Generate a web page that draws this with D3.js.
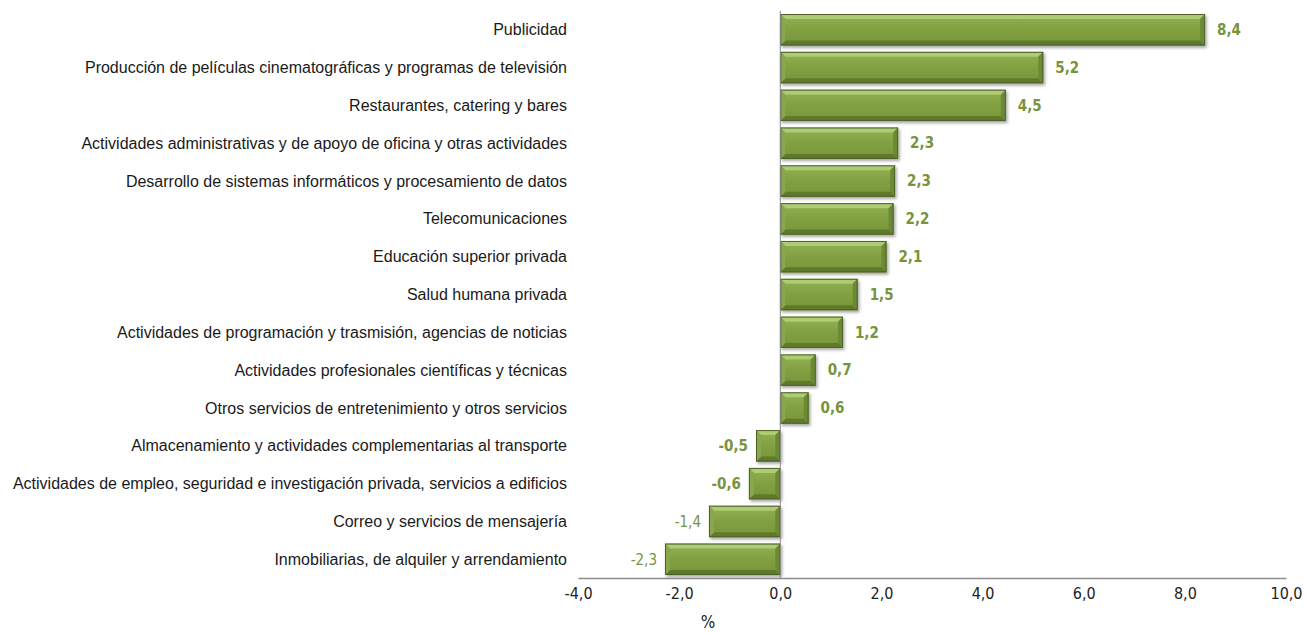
<!DOCTYPE html>
<html>
<head>
<meta charset="utf-8">
<script src="https://cdn.jsdelivr.net/npm/d3@7"></script>
<style>
  body { margin: 0; background: #fff; }
  .cat { font-family: "Liberation Sans", Arial, sans-serif; font-size: 16px; fill: #1a1a1a; }
  .tick-lbl { font-family: "Liberation Sans Narrow", "Arial Narrow", "DejaVu Sans Condensed", sans-serif; font-size: 16px; fill: #222; }
  .val { font-family: "Liberation Sans Narrow", "Arial Narrow", "DejaVu Sans Condensed", sans-serif; font-size: 15px; fill: #77933C; }
</style>
</head>
<body>
<script>
const categories = [
  "Publicidad",
  "Producción de películas cinematográficas y programas de televisión",
  "Restaurantes, catering y bares",
  "Actividades administrativas y de apoyo de oficina y otras actividades",
  "Desarrollo de sistemas informáticos y procesamiento de datos",
  "Telecomunicaciones",
  "Educación superior privada",
  "Salud humana privada",
  "Actividades de programación y trasmisión, agencias de noticias",
  "Actividades profesionales científicas y técnicas",
  "Otros servicios de entretenimiento y otros servicios",
  "Almacenamiento y actividades complementarias al transporte",
  "Actividades de empleo, seguridad e investigación privada, servicios a edificios",
  "Correo y servicios de mensajería",
  "Inmobiliarias, de alquiler y arrendamiento"
];
const values = [8.4, 5.2, 4.46, 2.33, 2.27, 2.24, 2.1, 1.53, 1.24, 0.7, 0.56, -0.48, -0.62, -1.41, -2.28];
const xTicks = [-4, -2, 0, 2, 4, 6, 8, 10];

const W = 1305, H = 633;
const svg = d3.select("body").append("svg").attr("width", W).attr("height", H);

const x = d3.scaleLinear().domain([-4, 10]).range([578, 1286]);
const y = d3.scaleBand().domain(categories).range([11, 578]).paddingInner(0.17).paddingOuter(0.08);

const data = categories.map((c, i) => ({ cat: c, value: values[i] }));
const fmt = v => v.toFixed(1).replace(".", ",");

// gradients
const defs = svg.append("defs");
const g1 = defs.append("linearGradient").attr("id", "barGrad").attr("x1", 0).attr("y1", 0).attr("x2", 0).attr("y2", 1);
g1.append("stop").attr("offset", "0%").attr("stop-color", "#93B253");
g1.append("stop").attr("offset", "50%").attr("stop-color", "#81A042");
g1.append("stop").attr("offset", "100%").attr("stop-color", "#789639");
const sh = defs.append("filter").attr("id", "shadow").attr("x", "-10%").attr("y", "-20%").attr("width", "130%").attr("height", "160%");
sh.append("feDropShadow").attr("dx", 1.5).attr("dy", 2).attr("stdDeviation", 1.5).attr("flood-color", "#000").attr("flood-opacity", 0.35);

// bars with bevel
const bars = svg.append("g").selectAll("g").data(data).join("g")
  .attr("filter", "url(#shadow)");

bars.each(function(d) {
  const g = d3.select(this);
  const x0 = Math.min(x(0), x(d.value)), x1 = Math.max(x(0), x(d.value));
  const y0 = y(d.cat), y1 = y0 + y.bandwidth();
  const b = 5;
  g.append("rect").attr("x", x0).attr("y", y0).attr("width", x1 - x0).attr("height", y1 - y0)
    .attr("fill", "url(#barGrad)");
  // top bevel
  g.append("polygon").attr("points", [[x0, y0], [x1, y0], [x1 - b, y0 + b], [x0 + b, y0 + b]].join(" "))
    .attr("fill", "#AECB74");
  // bottom bevel
  g.append("polygon").attr("points", [[x0, y1], [x1, y1], [x1 - b, y1 - b], [x0 + b, y1 - b]].join(" "))
    .attr("fill", "#5F7A2B");
  // left bevel
  g.append("polygon").attr("points", [[x0, y0], [x0 + b, y0 + b], [x0 + b, y1 - b], [x0, y1]].join(" "))
    .attr("fill", "#8AA64F");
  // right bevel
  g.append("polygon").attr("points", [[x1, y0], [x1 - b, y0 + b], [x1 - b, y1 - b], [x1, y1]].join(" "))
    .attr("fill", "#6C8A34");
  g.append("rect").attr("x", x0 + 0.5).attr("y", y0 + 0.5).attr("width", x1 - x0 - 1).attr("height", y1 - y0 - 1)
    .attr("fill", "none").attr("stroke", "#4F6228").attr("stroke-width", 1);
});

// zero line
svg.append("line")
  .attr("x1", x(0)).attr("x2", x(0))
  .attr("y1", 11).attr("y2", 578)
  .attr("stroke", "#8c8c8c").attr("stroke-width", 1);

// bottom axis
const xAxis = svg.append("g")
  .attr("transform", "translate(0,578)")
  .call(d3.axisBottom(x).tickValues(xTicks).tickSize(0).tickPadding(10).tickFormat(fmt));
xAxis.select(".domain").attr("stroke", "#8c8c8c").attr("stroke-width", 1.3);
xAxis.selectAll("text").attr("class", "tick-lbl").attr("font-family", null).attr("font-size", null).attr("fill", null);

svg.append("text")
  .attr("x", x(-1.43)).attr("y", 628)
  .attr("text-anchor", "middle")
  .attr("class", "tick-lbl")
  .style("font-size", "17px")
  .text("%");

// category labels
svg.append("g").selectAll("text").data(data).join("text")
  .attr("class", "cat")
  .attr("x", 567)
  .attr("y", d => y(d.cat) + y.bandwidth() / 2)
  .attr("dy", "0.35em")
  .attr("text-anchor", "end")
  .text(d => d.cat);

// value labels
svg.append("g").selectAll("text").data(data).join("text")
  .attr("class", "val")
  .attr("x", d => d.value >= 0 ? x(d.value) + 12 : x(d.value) - 8)
  .attr("y", d => y(d.cat) + y.bandwidth() / 2)
  .attr("dy", "0.35em")
  .attr("text-anchor", d => d.value >= 0 ? "start" : "end")
  .attr("font-weight", d => d.value < -1 ? "normal" : "bold")
  .text(d => fmt(d.value));
</script>
</body>
</html>
